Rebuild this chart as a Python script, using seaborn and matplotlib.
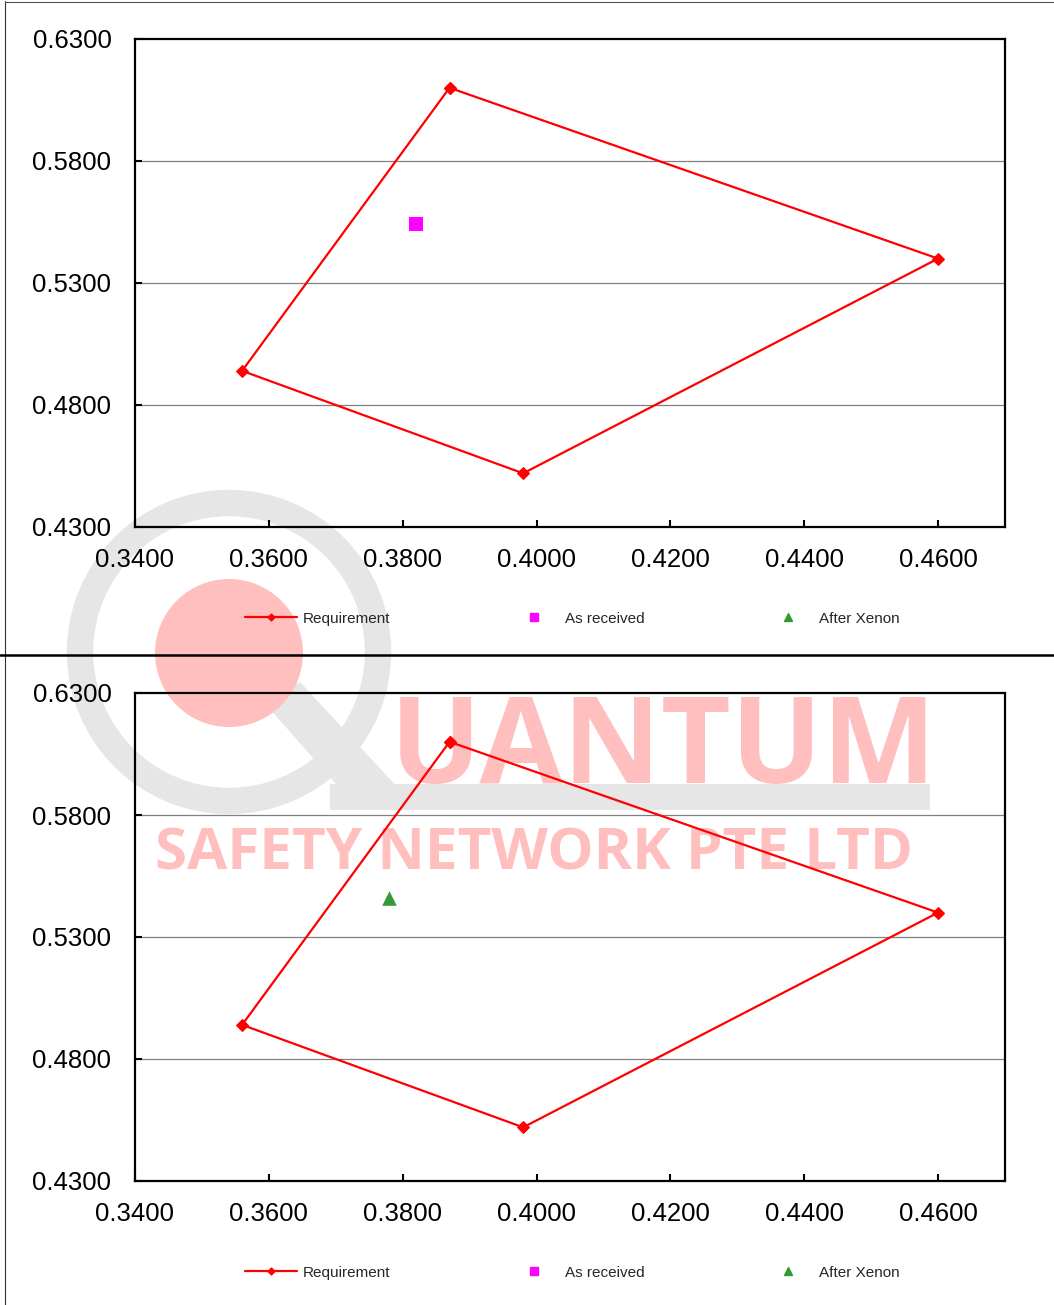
import numpy as np
import pandas as pd
import seaborn as sns
import matplotlib.pyplot as plt
from matplotlib.patches import Circle, Polygon, Rectangle
from matplotlib.lines import Line2D

# chromaticity data
req_x = [0.387, 0.460, 0.398, 0.356, 0.387]
req_y = [0.610, 0.540, 0.452, 0.494, 0.610]
received_x = [0.382]
received_y = [0.554]
xenon_x = [0.378]
xenon_y = [0.546]

x_ticks = [0.34, 0.36, 0.38, 0.40, 0.42, 0.44, 0.46]
y_ticks = [0.43, 0.48, 0.53, 0.58, 0.63]

sns.set_theme(style="white")
plt.rcParams['font.family'] = ['Liberation Sans', 'DejaVu Sans']

W, H = 1054, 1305
fig = plt.figure(figsize=(W / 100, H / 100), dpi=100)

# background layer in pixel coordinates: watermark and panel borders
bg = fig.add_axes([0, 0, 1, 1], zorder=-1)
bg.set_xlim(0, W)
bg.set_ylim(H, 0)
bg.axis('off')

pink = '#ffbfbf'
grey = '#e6e6e6'
bg.add_patch(Circle((229, 652), 149, fill=False, edgecolor=grey, linewidth=19))
bg.add_patch(Polygon([[262, 700], [300, 682], [400, 790], [350, 800]], closed=True, color=grey, lw=0))
bg.add_patch(Rectangle((330, 784), 600, 26, color=grey, lw=0))
bg.add_patch(Circle((229, 653), 74, color=pink, lw=0))
bg.text(390, 783, "UANTUM", color=pink, fontsize=87, fontweight='bold',
        family='Open Sans', va='baseline', ha='left')
bg.text(155, 870, "SAFETY NETWORK PTE LTD", color=pink, fontsize=42, fontweight='bold',
        family='Open Sans', va='baseline', ha='left')

bg.plot([5, 5], [1, H], color='#333333', lw=0.8)
bg.plot([5, W], [1.5, 1.5], color='#555555', lw=0.8)
bg.plot([0, W], [655, 655], color='black', lw=1.8)

# legend entries shared by both panels
handles = [
    Line2D([], [], color='red', linewidth=1.6, marker='D', markersize=3.5, label='Requirement'),
    Line2D([], [], color='#ff00ff', linestyle='none', marker='s', markersize=6, label='As received'),
    Line2D([], [], color='#339933', linestyle='none', marker='^', markersize=6, label='After Xenon'),
]


def draw_panel(rect, points_x, points_y, color, marker, size):
    ax = fig.add_axes(rect)
    ax.set_facecolor('none')

    sns.lineplot(x=req_x, y=req_y, sort=False, estimator=None, ax=ax, color='red', linewidth=1.6,
                 marker='D', markersize=6.5, markeredgecolor='red')
    sns.scatterplot(x=points_x, y=points_y, ax=ax, color=color, marker=marker, s=size,
                    linewidth=0, zorder=3)

    ax.set_xlim(0.34, 0.47)
    ax.set_ylim(0.43, 0.63)
    ax.set_xticks(x_ticks)
    ax.set_yticks(y_ticks)
    ax.set_xticklabels([f"{v:.4f}" for v in x_ticks])
    ax.set_yticklabels([f"{v:.4f}" for v in y_ticks])
    ax.tick_params(axis='both', direction='in', length=5, width=1.5, labelsize=18.5,
                   colors='black', bottom=True, left=True)
    ax.tick_params(axis='y', pad=17)
    ax.tick_params(axis='x', pad=15)

    for y in y_ticks[1:-1]:
        ax.axhline(y, color='#808080', linewidth=0.9, zorder=0)
    for spine in ax.spines.values():
        spine.set_color('black')
        spine.set_linewidth(1.6)

    ax.set_xlabel('')
    ax.set_ylabel('')
    ax.legend(handles=handles, loc='center', bbox_to_anchor=(0.503, -0.188), ncol=3, frameon=False,
              fontsize=11, handlelength=3.4, handletextpad=0.35, columnspacing=7.7)
    return ax


draw_panel([135 / W, 1 - 527 / H, 870 / W, 488 / H], received_x, received_y, '#ff00ff', 's', 90)
draw_panel([135 / W, 1 - 1181 / H, 870 / W, 488 / H], xenon_x, xenon_y, '#339933', '^', 110)

fig.savefig('out.png', dpi=100)
